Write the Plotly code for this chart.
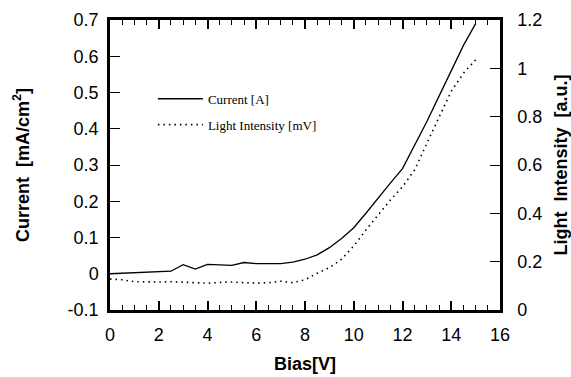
import plotly.graph_objects as go

bias = [0, 0.5, 1, 1.5, 2, 2.5, 3, 3.5, 4, 4.5, 5, 5.5, 6, 6.5, 7, 7.5,
        8, 8.5, 9, 9.5, 10, 10.5, 11, 11.5, 12, 12.5, 13, 13.5, 14, 14.5, 15]
current = [0.0, 0.001, 0.002, 0.004, 0.005, 0.007, 0.025, 0.013, 0.026, 0.025,
           0.023, 0.031, 0.028, 0.028, 0.028, 0.032, 0.040, 0.052, 0.072, 0.097,
           0.127, 0.167, 0.21, 0.25, 0.29, 0.355, 0.42, 0.49, 0.56, 0.63, 0.69]
light = [0.128, 0.125, 0.117, 0.115, 0.116, 0.117, 0.116, 0.113, 0.111, 0.114,
         0.116, 0.113, 0.111, 0.113, 0.119, 0.113, 0.125, 0.152, 0.175, 0.21,
         0.265, 0.331, 0.395, 0.455, 0.51, 0.58, 0.69, 0.80, 0.905, 0.98, 1.035]

x_ticks = [0, 2, 4, 6, 8, 10, 12, 14, 16]
y1_ticks = [-0.1, 0, 0.1, 0.2, 0.3, 0.4, 0.5, 0.6, 0.7]
y1_labels = ["-0.1", "0", "0.1", "0.2", "0.3", "0.4", "0.5", "0.6", "0.7"]
y2_ticks = [0, 0.2, 0.4, 0.6, 0.8, 1.0, 1.2]
y2_labels = ["0", "0.2", "0.4", "0.6", "0.8", "1", "1.2"]

tickfont = dict(family="Liberation Sans, Arial", size=18, color="black")
titlefont = dict(family="Liberation Sans, Arial", size=18, color="black", weight="bold")

fig = go.Figure()
fig.add_trace(go.Scatter(x=bias, y=current, mode="lines", name="Current [A]",
                         legendgroup="a",
                         line=dict(color="black", width=1.3)))
fig.add_trace(go.Scatter(x=bias, y=light, mode="lines", name="Light Intensity [mV]",
                         legendgroup="b",
                         yaxis="y2", line=dict(color="black", width=1.6, dash="1.5px,4px")))

fig.update_layout(
    width=571, height=377,
    margin=dict(l=110, r=71, t=20, b=67),
    paper_bgcolor="white", plot_bgcolor="white",
    showlegend=True,
    legend=dict(x=0.11, y=0.78, xanchor="left", yanchor="top",
                bgcolor="rgba(0,0,0,0)", itemwidth=45,
                font=dict(family="Liberation Serif, Times New Roman", size=13, color="black"),
                tracegroupgap=6),
    xaxis=dict(range=[0, 16], tickvals=x_ticks, ticks="inside", ticklen=9, tickwidth=1.5,
               tickcolor="black", showline=True, linecolor="black", linewidth=2.5,
               mirror="ticks", showgrid=False, zeroline=False, tickfont=tickfont,
               ticklabelstandoff=7, automargin=False,
               minor=dict(dtick=0.5, ticks="inside", ticklen=5, tickwidth=1.2, tickcolor="black"),
               title=dict(text="Bias[V]", font=titlefont, standoff=14)),
    yaxis=dict(range=[-0.1, 0.7], tickvals=y1_ticks, ticktext=y1_labels, ticks="inside",
               ticklen=10, tickwidth=1.2, tickcolor="black", showline=True, linecolor="black",
               linewidth=2.5, showgrid=False, zeroline=False, tickfont=tickfont,
               ticklabelstandoff=5, automargin=False,
               title=dict(text="Current  [mA/cm<sup>2</sup>]", font=titlefont, standoff=34)),
    yaxis2=dict(range=[0, 1.2], tickvals=y2_ticks, ticktext=y2_labels, overlaying="y",
                side="right", ticks="inside", ticklen=10, tickwidth=1.2, tickcolor="black",
                showline=True, linecolor="black", linewidth=2.5, showgrid=False,
                zeroline=False, tickfont=tickfont, ticklabelstandoff=11, automargin=False,
                title=dict(text="Light  Intensity  [a.u.]", font=titlefont, standoff=15)),
)

fig.write_html("out.html")
